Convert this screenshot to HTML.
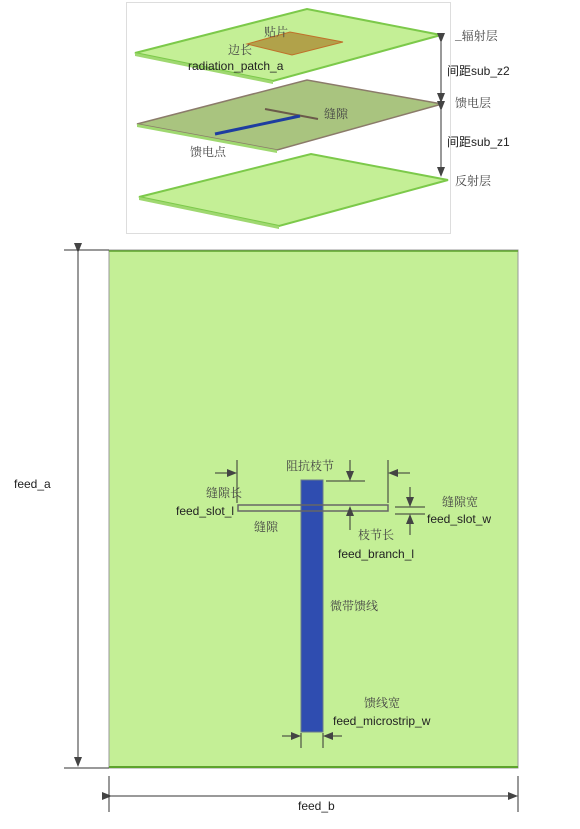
<!DOCTYPE html>
<html><head><meta charset="utf-8"><style>
body{margin:0;background:#fff;width:580px;height:824px;overflow:hidden}
text{font-family:"Liberation Sans","Noto Sans CJK SC",sans-serif;font-size:12px;fill:#222}
.cn{font-family:"Noto Serif CJK SC","Noto Sans CJK SC",serif;fill:#444}
</style></head><body>
<svg width="580" height="824" viewBox="0 0 580 824">
<defs><marker id="ar" markerWidth="10" markerHeight="8" refX="9" refY="4" orient="auto" markerUnits="userSpaceOnUse"><path d="M0,0L10,4L0,8z" fill="#444"/></marker></defs>
<g>
<rect x="126.5" y="2.5" width="324" height="231" fill="#fff" stroke="#ddd"/>
<polygon points="135,53 307,9 441,35 273,81" fill="#c4ef96" stroke="#7cc94a" stroke-width="2"/>
<polygon points="135,53 273,81 273,84 135,56" fill="#9fd870"/>
<polygon points="247,44 290,32 343,42 292,55" fill="#b1a24a" stroke="#c0702a"/>
<polygon points="137,124 307,80 442,104 277,150" fill="#a9c47f" stroke="#8b7b6a" stroke-width="1.5"/>
<polygon points="137,124 277,150 277,153 137,127" fill="#9fd870"/>
<line x1="265" y1="109" x2="318" y2="119" stroke="#6b5a4a" stroke-width="2"/>
<line x1="215" y1="134" x2="300" y2="116" stroke="#1e3da0" stroke-width="3"/>
<polygon points="139,197 311,154 448,180 279,226" fill="#c4ef96" stroke="#7cc94a" stroke-width="2"/>
<polygon points="139,197 279,226 279,229 139,200" fill="#9fd870"/>
<text x="264" y="36" class="cn">贴片</text>
<text x="228" y="54" class="cn">边长</text>
<text x="188" y="70">radiation_patch_a</text>
<text x="324" y="118" class="cn">缝隙</text>
<text x="190" y="156" class="cn">馈电点</text>
<text x="455" y="40" class="cn">_辐射层</text>
<text x="447" y="75">间距sub_z2</text>
<text x="455" y="107" class="cn">馈电层</text>
<text x="447" y="146">间距sub_z1</text>
<text x="455" y="185" class="cn">反射层</text>
<line x1="441" y1="42" x2="441" y2="102" stroke="#333" marker-start="url(#ar)" marker-end="url(#ar)"/>
<line x1="441" y1="110" x2="441" y2="176" stroke="#333" marker-start="url(#ar)" marker-end="url(#ar)"/>
</g>
<g>
<rect x="109" y="250" width="409" height="518" fill="#c4ef96" stroke="#999"/>
<line x1="109" y1="767" x2="518" y2="767" stroke="#5da32c" stroke-width="2"/>
<line x1="109" y1="251" x2="518" y2="251" stroke="#5da32c" stroke-width="1.5"/>
<rect x="301" y="480" width="22" height="252" fill="#2f4db0" stroke="#6a7a8a"/>
<rect x="238" y="505" width="150" height="6" fill="none" stroke="#666" stroke-width="1.5"/>
<line x1="78" y1="252" x2="78" y2="766" stroke="#333" marker-start="url(#ar)" marker-end="url(#ar)"/>
<line x1="64" y1="250" x2="109" y2="250" stroke="#333"/>
<line x1="64" y1="768" x2="109" y2="768" stroke="#333"/>
<text x="14" y="488">feed_a</text>
<line x1="111" y1="796" x2="517" y2="796" stroke="#333" marker-start="url(#ar)" marker-end="url(#ar)"/>
<line x1="109" y1="776" x2="109" y2="812" stroke="#333"/>
<line x1="518" y1="776" x2="518" y2="812" stroke="#333"/>
<text x="298" y="810">feed_b</text>
<line x1="237" y1="460" x2="237" y2="503" stroke="#333"/>
<line x1="215" y1="473" x2="236" y2="473" stroke="#333" marker-end="url(#ar)"/>
<line x1="388" y1="460" x2="388" y2="503" stroke="#333"/>
<line x1="410" y1="473" x2="389" y2="473" stroke="#333" marker-end="url(#ar)"/>
<text x="206" y="497" class="cn">缝隙长</text>
<text x="176" y="515">feed_slot_l</text>
<text x="254" y="531" class="cn">缝隙</text>
<text x="286" y="470" class="cn">阻抗枝节</text>
<line x1="326" y1="481" x2="365" y2="481" stroke="#333"/>
<line x1="350" y1="460" x2="350" y2="480" stroke="#333" marker-end="url(#ar)"/>
<line x1="350" y1="530" x2="350" y2="507" stroke="#333" marker-end="url(#ar)"/>
<text x="358" y="539" class="cn">枝节长</text>
<text x="338" y="558">feed_branch_l</text>
<line x1="395" y1="507" x2="425" y2="507" stroke="#333"/>
<line x1="395" y1="514" x2="425" y2="514" stroke="#333"/>
<line x1="410" y1="487" x2="410" y2="506" stroke="#333" marker-end="url(#ar)"/>
<line x1="410" y1="535" x2="410" y2="515" stroke="#333" marker-end="url(#ar)"/>
<text x="442" y="506" class="cn">缝隙宽</text>
<text x="427" y="523">feed_slot_w</text>
<text x="330" y="610" class="cn">微带馈线</text>
<text x="364" y="707" class="cn">馈线宽</text>
<text x="333" y="725">feed_microstrip_w</text>
<line x1="301" y1="733" x2="301" y2="748" stroke="#333"/>
<line x1="323" y1="733" x2="323" y2="748" stroke="#333"/>
<line x1="282" y1="736" x2="300" y2="736" stroke="#333" marker-end="url(#ar)"/>
<line x1="342" y1="736" x2="324" y2="736" stroke="#333" marker-end="url(#ar)"/>
</g>
</svg>
</body></html>
